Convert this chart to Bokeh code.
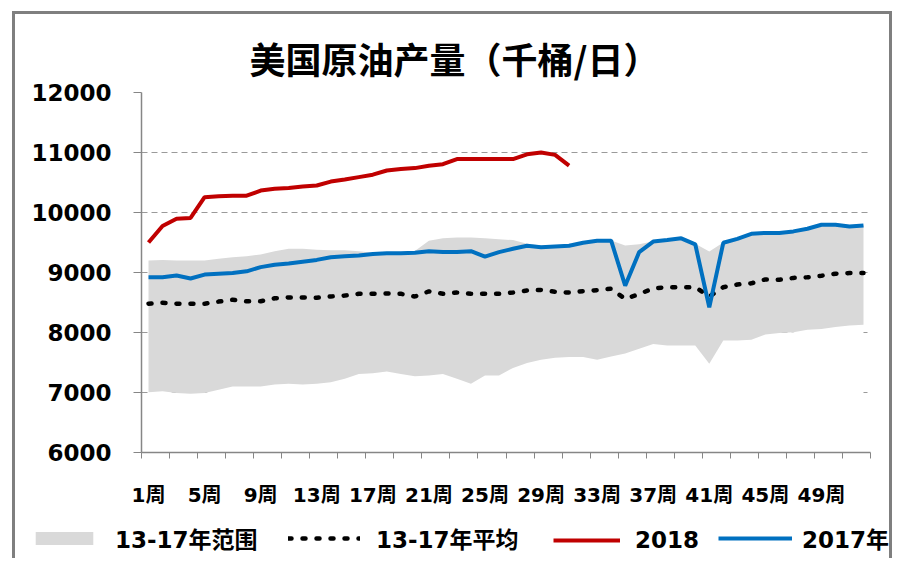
from bokeh.plotting import figure
from bokeh.layouts import column
from bokeh.models import FixedTicker, Legend, LegendItem, Range1d
from bokeh.embed import file_html
from bokeh.resources import INLINE

weeks = list(range(1, 53))
tick_weeks = [1, 5, 9, 13, 17, 21, 25, 29, 33, 37, 41, 45, 49]
tick_labels = ["1周", "5周", "9周", "13周", "17周", "21周", "25周", "29周",
               "33周", "37周", "41周", "45周", "49周"]
y_ticks = [6000, 7000, 8000, 9000, 10000, 11000, 12000]

range_upper = [9200, 9210, 9200, 9200, 9200, 9230, 9255, 9270, 9300, 9355,
               9395, 9395, 9380, 9370, 9370, 9355, 9330, 9325, 9325, 9360,
               9530, 9570, 9585, 9585, 9570, 9555, 9540, 9480, 9450, 9450,
               9450, 9500, 9530, 9535, 9450, 9470, 9520, 9540, 9575, 9480,
               9350, 9500, 9565, 9645, 9665, 9665, 9685, 9730, 9795, 9795,
               9770, 9785]
range_lower = [7005, 7020, 6990, 6980, 6990, 7045, 7100, 7100, 7100, 7135,
               7145, 7135, 7145, 7170, 7230, 7310, 7320, 7350, 7310, 7270,
               7285, 7310, 7230, 7145, 7285, 7285, 7410, 7490, 7545, 7580,
               7590, 7590, 7545, 7600, 7650, 7730, 7810, 7785, 7785, 7785,
               7480, 7865, 7865, 7880, 7965, 7990, 8005, 8045, 8060, 8090,
               8115, 8130]
avg_13_17 = [8480, 8495, 8480, 8480, 8480, 8515, 8545, 8520, 8520, 8570,
             8585, 8585, 8580, 8600, 8615, 8645, 8645, 8650, 8645, 8600,
             8685, 8645, 8665, 8645, 8645, 8645, 8665, 8700, 8710, 8680,
             8665, 8690, 8705, 8730, 8560, 8640, 8735, 8755, 8755, 8755,
             8600, 8755, 8800, 8820, 8885, 8880, 8910, 8920, 8945, 8980,
             8990, 8990]
prod_2018 = [9500, 9775, 9895, 9910, 10255, 10270, 10280, 10280, 10365, 10395,
             10410, 10435, 10450, 10515, 10550, 10590, 10630, 10700, 10725, 10740,
             10780, 10805, 10890, 10890, 10890, 10890, 10890, 10970, 11000, 10960,
             10780]
prod_2017 = [8920, 8920, 8950, 8900, 8965, 8980, 8990, 9020, 9090, 9130,
             9150, 9180, 9210, 9255, 9270, 9285, 9310, 9320, 9320, 9330,
             9355, 9340, 9340, 9355, 9265, 9340, 9395, 9445, 9420, 9435,
             9445, 9495, 9530, 9530, 8780, 9340, 9515, 9540, 9570, 9470,
             8420, 9495, 9560, 9645, 9660, 9660, 9685, 9730, 9795, 9795,
             9765, 9785]
legend_labels = ["13-17年范围", "13-17年平均", "2018", "2017年"]

BOLD_FONT = "DejaVu Sans, Noto Sans CJK SC"
G = "linear-gradient(#7f7f7f,#7f7f7f)"
GRAY, RED, BLUE = "#d9d9d9", "#c00000", "#0070c0"
AVG_STYLE = dict(line_color="black", line_width=4.5, line_dash="3 11",
                 line_cap="round")

p = figure(width=893, height=520, output_backend="svg", toolbar_location=None,
           x_range=Range1d(0.5, 52.5), y_range=Range1d(6000, 12000),
           min_border_left=141, min_border_right=23, min_border_top=92,
           min_border_bottom=68,
           title="美国原油产量（千桶/日）")
p.frame_align = False
p.outline_line_color = None
p.background_fill_color = "white"
p.border_fill_color = None
p.styles = {"background": f"{G} 12px 11px / 3px 700px no-repeat, "
                          f"{G} 12px 11px / 880px 3px no-repeat, "
                          f"{G} 889px 11px / 3px 700px no-repeat, white"}

# title
p.title.align = "left"
p.title.offset = 108
p.title.text_font = "Noto Sans CJK SC"
p.title.text_font_style = "bold"
p.title.text_font_size = "36px"
p.title.text_color = "black"
p.title.standoff = 18

# grid
yt = FixedTicker(ticks=y_ticks)
p.yaxis.ticker = yt
p.ygrid.ticker = yt
p.ygrid.grid_line_color = "#9a9a9a"
p.ygrid.grid_line_dash = "6 4"
p.ygrid.grid_line_width = 1
p.xgrid.visible = False

# range band: white below, gray between
p.varea(x=weeks, y1=[6000] * 52, y2=range_lower, fill_color="white")
p.varea(x=weeks, y1=range_lower, y2=range_upper, fill_color=GRAY)
p.line(weeks, avg_13_17, **AVG_STYLE)
p.line(weeks[:len(prod_2018)], prod_2018, line_color=RED, line_width=4)
p.line(weeks, prod_2017, line_color=BLUE, line_width=4)

# axes
for ax in (p.xaxis, p.yaxis):
    ax.axis_line_color = "#868686"
    ax.axis_line_width = 1.5
    ax.major_label_text_font = BOLD_FONT
    ax.major_label_text_font_style = "bold"
    ax.major_label_text_color = "black"

p.yaxis.major_tick_line_color = "#868686"
p.yaxis.major_tick_out = 8
p.yaxis.major_tick_in = 0
p.yaxis.minor_tick_line_color = None
p.yaxis.major_label_standoff = 22
p.yaxis.major_label_text_font_size = "23px"

p.xaxis.ticker = FixedTicker(ticks=tick_weeks,
                             minor_ticks=[w + 0.5 for w in range(0, 53, 2)])
p.xaxis.major_label_overrides = {w: t for w, t in zip(tick_weeks, tick_labels)}
p.xaxis.major_tick_out = 0
p.xaxis.major_tick_in = 0
p.xaxis.minor_tick_out = 6
p.xaxis.minor_tick_in = 0
p.xaxis.minor_tick_line_color = "#868686"
p.xaxis.major_label_standoff = 24
p.xaxis.major_label_text_font_size = "20px"

# legend strip: separate figure whose frame spans the full width
lg = figure(width=893, height=38, output_backend="svg", toolbar_location=None,
            x_axis_type=None, y_axis_type=None, min_border=0,
            x_range=Range1d(0, 1), y_range=Range1d(0, 1))
lg.frame_align = False
lg.outline_line_color = None
lg.background_fill_color = None
lg.border_fill_color = None
lg.grid.visible = False
lg.styles = {"background": f"{G} 12px 0px / 3px 100px no-repeat, "
                           f"{G} 889px 0px / 3px 100px no-repeat, white"}
# legend-only renderers, kept out of the visible range
off = [-2, -1]
r_band = lg.varea(x=off, y1=off, y2=off, fill_color=GRAY)
r_avg = lg.line(off, off, **AVG_STYLE)
r_red = lg.line(off, off, line_color=RED, line_width=4)
r_blue = lg.line(off, off, line_color=BLUE, line_width=4)

leg_specs = [(r_band, 28, 72, 15), (r_avg, 288, 72, 16),
             (r_red, 553, 67, 15), (r_blue, 718, 74, 10)]
for (rend, lx, gw, so), lab in zip(leg_specs, legend_labels):
    lg.add_layout(Legend(items=[LegendItem(label=lab, renderers=[rend])],
                         location=(lx, 3), glyph_width=gw, glyph_height=16,
                         label_height=30,
                         label_standoff=so, padding=0, margin=0,
                         border_line_color=None, background_fill_alpha=0,
                         label_text_font=BOLD_FONT,
                         label_text_font_style="bold",
                         label_text_font_size="23px",
                         label_text_color="black"), "center")

layout = column(p, lg, spacing=0)
open("out.html", "w").write(file_html(layout, INLINE))
